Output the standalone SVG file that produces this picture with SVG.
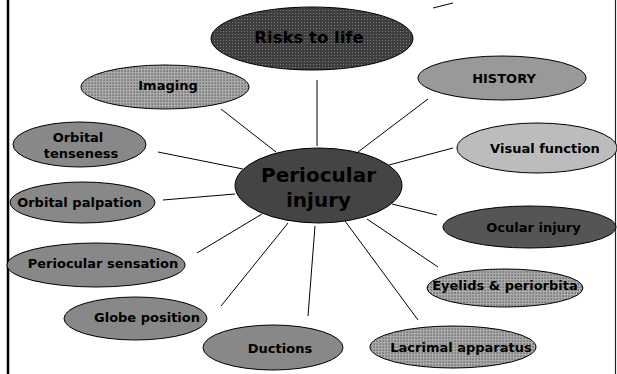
<svg xmlns="http://www.w3.org/2000/svg" width="617" height="374" viewBox="0 0 617 374">
<defs>
<pattern id="stipple" width="3" height="3" patternUnits="userSpaceOnUse">
<rect width="3" height="3" fill="#3e3e3e"/>
<rect x="1" y="1" width="1" height="1" fill="#7a7a7a"/>
</pattern>
<pattern id="check" width="3" height="3" patternUnits="userSpaceOnUse">
<rect width="3" height="3" fill="#8c8c8c"/>
<rect x="0" y="0" width="3" height="1" fill="#ababab"/>
<rect x="0" y="0" width="1" height="3" fill="#ababab"/>
<rect x="2" y="2" width="1" height="1" fill="#777"/>
</pattern>
</defs>
<style>
.n{stroke:#000;stroke-width:1}
.t{font-family:"DejaVu Sans",Verdana,sans-serif;font-weight:bold;font-size:13px;fill:#000;text-anchor:middle}
.c line{stroke:#000;stroke-width:1}
</style>
<rect width="617" height="374" fill="#fff"/>
<line x1="8" y1="0" x2="8" y2="374" stroke="#000" stroke-width="2.5"/>
<line x1="615.5" y1="0" x2="615.5" y2="374" stroke="#222" stroke-width="1.2"/>
<g class="c" id="connectors">
<line x1="433" y1="8" x2="453" y2="3"/>
<line x1="317" y1="80" x2="317" y2="146"/>
<line x1="221" y1="109" x2="276" y2="152"/>
<line x1="428" y1="99" x2="358" y2="152"/>
<line x1="453" y1="148" x2="389" y2="165"/>
<line x1="392" y1="204" x2="437" y2="215"/>
<line x1="367" y1="219" x2="438" y2="267"/>
<line x1="345" y1="221" x2="418" y2="320"/>
<line x1="315" y1="226" x2="308" y2="316"/>
<line x1="288" y1="223" x2="221" y2="306"/>
<line x1="262" y1="214" x2="197" y2="253"/>
<line x1="163" y1="200" x2="235" y2="194"/>
<line x1="158" y1="152" x2="243" y2="169"/>
</g>
<g id="risks"><ellipse class="n" cx="312" cy="38.5" rx="101" ry="31.5" fill="url(#stipple)"/><text class="t" x="309" y="43" style="font-size:16.5px">Risks to life</text></g>
<g id="imaging"><ellipse class="n" cx="165" cy="87" rx="84" ry="22" fill="url(#check)"/><text class="t" x="168" y="90">Imaging</text></g>
<g id="history"><ellipse class="n" cx="502" cy="78" rx="84" ry="22" fill="#999"/><text class="t" x="504" y="83">HISTORY</text></g>
<g id="visual"><ellipse class="n" cx="537" cy="148" rx="80" ry="25" fill="#bcbcbc"/><text class="t" x="545" y="153">Visual function</text></g>
<g id="ocular"><ellipse class="n" cx="529.5" cy="227" rx="86.5" ry="21" fill="#555"/><text class="t" x="533.5" y="232">Ocular injury</text></g>
<g id="eyelids"><ellipse class="n" cx="505" cy="288" rx="78" ry="19" fill="url(#check)"/><text class="t" x="505" y="290">Eyelids &amp; periorbita</text></g>
<g id="lacrimal"><ellipse class="n" cx="453" cy="347" rx="83" ry="21" fill="url(#check)"/><text class="t" x="461" y="352">Lacrimal apparatus</text></g>
<g id="ductions"><ellipse class="n" cx="273" cy="347.5" rx="70" ry="22.5" fill="#888"/><text class="t" x="280" y="353">Ductions</text></g>
<g id="globe"><ellipse class="n" cx="135.5" cy="318.5" rx="71.5" ry="21.5" fill="#888"/><text class="t" x="147" y="322">Globe position</text></g>
<g id="sensation"><ellipse class="n" cx="96" cy="265" rx="89" ry="22" fill="#888"/><text class="t" x="103" y="268">Periocular sensation</text></g>
<g id="palpation"><ellipse class="n" cx="82.5" cy="202.5" rx="72.5" ry="20.5" fill="#888"/><text class="t" x="79.5" y="207">Orbital palpation</text></g>
<g id="tenseness"><ellipse class="n" cx="79.5" cy="144.5" rx="66.5" ry="22.5" fill="#888"/><text class="t" x="78" y="142">Orbital</text><text class="t" x="81" y="158">tenseness</text></g>
<g id="center"><ellipse class="n" cx="318.5" cy="185.5" rx="83.5" ry="37.5" fill="#444"/><text class="t" x="318.5" y="182" style="font-size:20px">Periocular</text><text class="t" x="318.5" y="207" style="font-size:20px">injury</text></g>
</svg>
